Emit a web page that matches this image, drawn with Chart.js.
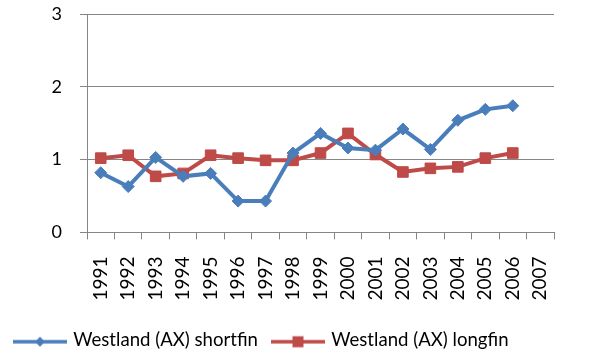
<!DOCTYPE html>
<html>
<head>
<meta charset="utf-8">
<script src="https://cdn.jsdelivr.net/npm/chart.js@4/dist/chart.umd.min.js"></script>
<style>
  html, body { margin: 0; padding: 0; background: #fff; }
  canvas { display: block; }
</style>
</head>
<body>
<canvas id="c" width="590" height="356"></canvas>
<script>
// Survey years along the bottom axis
const years = ['1991','1992','1993','1994','1995','1996','1997','1998','1999','2000','2001','2002','2003','2004','2005','2006','2007'];

// Westland (AX) index values per year (no value for 2007)
const shortfin = [0.82, 0.63, 1.03, 0.77, 0.81, 0.43, 0.43, 1.09, 1.36, 1.16, 1.13, 1.42, 1.14, 1.54, 1.69, 1.74, null];
const longfin  = [1.02, 1.06, 0.77, 0.81, 1.06, 1.02, 0.99, 0.99, 1.09, 1.36, 1.07, 0.83, 0.88, 0.90, 1.02, 1.09, null];

const seriesNames = ['Westland (AX) shortfin', 'Westland (AX) longfin'];
const yMin = 0, yMax = 3, yStep = 1;

const BLUE = '#4A7EBB';
const RED = '#BE4B48';
const AXIS = '#868686';
const FONT = 'Lato';

// Legend swatch: a short line with the series marker in the middle
function swatch(color, kind) {
  const w = 54, h = 20, cx = 27, cy = 12;
  const c = document.createElement('canvas');
  c.width = w; c.height = h;
  const g = c.getContext('2d');
  g.strokeStyle = color;
  g.fillStyle = color;
  g.lineWidth = 3.5;
  g.beginPath(); g.moveTo(0, cy); g.lineTo(w, cy); g.stroke();
  g.beginPath();
  if (kind === 'diamond') {
    g.moveTo(cx, cy - 5); g.lineTo(cx + 5, cy); g.lineTo(cx, cy + 5); g.lineTo(cx - 5, cy);
  } else {
    g.rect(cx - 5.5, cy - 5.5, 11, 11);
  }
  g.closePath(); g.fill();
  return c;
}
const swatches = [swatch(BLUE, 'diamond'), swatch(RED, 'square')];

Chart.defaults.color = '#000';
Chart.defaults.font.family = FONT;

new Chart(document.getElementById('c'), {
  type: 'line',
  data: {
    labels: years,
    datasets: [
      {
        label: seriesNames[0],
        data: shortfin,
        borderColor: BLUE,
        backgroundColor: BLUE,
        borderWidth: 4,
        pointStyle: 'rectRot',
        pointRadius: 6,
        pointBorderWidth: 1,
        tension: 0
      },
      {
        label: seriesNames[1],
        data: longfin,
        borderColor: RED,
        backgroundColor: RED,
        borderWidth: 4,
        pointStyle: 'rect',
        pointRadius: 7.5,
        pointBorderWidth: 1,
        tension: 0
      }
    ]
  },
  options: {
    responsive: false,
    animation: false,
    layout: { padding: { left: 0, right: 36, top: 14, bottom: -3 } },
    plugins: {
      tooltip: { enabled: false },
      legend: {
        position: 'bottom',
        align: 'start',
        labels: {
          usePointStyle: true,
          pointStyleWidth: 48,
          padding: 16,
          font: { size: 18.6, family: FONT },
          generateLabels(chart) {
            const items = Chart.defaults.plugins.legend.labels.generateLabels(chart);
            items.forEach((it, i) => { it.pointStyle = swatches[i]; });
            return items;
          }
        }
      }
    },
    scales: {
      x: {
        offset: true,
        grid: {
          offset: true,
          drawOnChartArea: false,
          drawTicks: true,
          tickLength: 7,
          color: AXIS
        },
        border: { display: true, color: AXIS },
        ticks: {
          autoSkip: false,
          minRotation: 90,
          maxRotation: 90,
          padding: 17,
          font: { size: 19, family: FONT }
        },
        afterFit(scale) { scale.height = 82; }
      },
      y: {
        min: yMin,
        max: yMax,
        grid: { color: AXIS, tickLength: 7, drawTicks: true },
        border: { display: true, color: AXIS },
        ticks: {
          stepSize: yStep,
          padding: 18,
          font: { size: 18, family: FONT }
        },
        afterFit(scale) {
          scale.width = 87;
          scale.paddingTop = 0;
          scale.paddingBottom = 0;
        }
      }
    }
  }
});
</script>
</body>
</html>
